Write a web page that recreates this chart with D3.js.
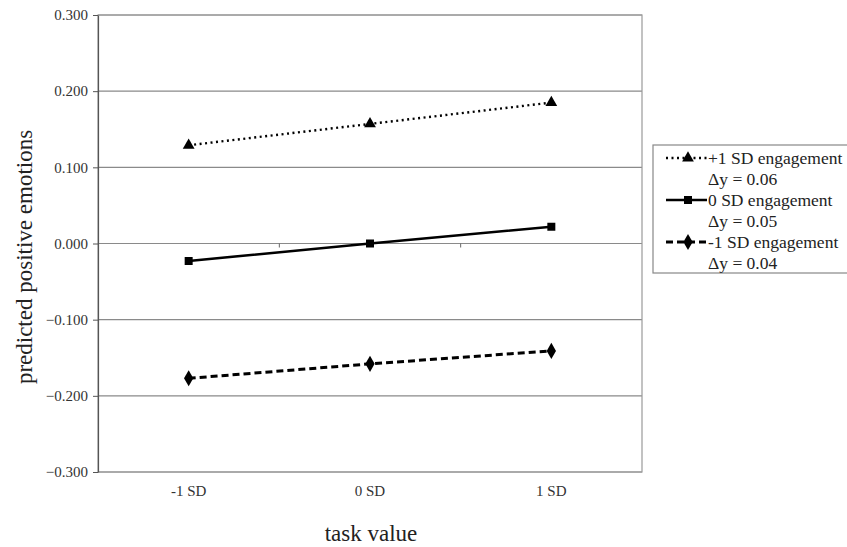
<!DOCTYPE html>
<html>
<head>
<meta charset="utf-8">
<script src="https://cdn.jsdelivr.net/npm/d3@7"></script>
<style>
  body { margin: 0; background: #fff; }
  text { font-family: "Liberation Serif", "Times New Roman", serif; }
</style>
</head>
<body>
<svg id="chart" width="847" height="547"></svg>
<script>
// data
const categories = ["-1 SD", "0 SD", "1 SD"];
const plusOneSD = [0.129, 0.157, 0.185];
const zeroSD = [-0.023, 0.000, 0.022];
const minusOneSD = [-0.177, -0.158, -0.141];
const seriesNames = ["+1 SD engagement", "0 SD engagement", "-1 SD engagement"];
const deltaLabels = ["\u0394y = 0.06", "\u0394y = 0.05", "\u0394y = 0.04"];
const yTicks = [-0.3, -0.2, -0.1, 0, 0.1, 0.2, 0.3];

const margin = { top: 15, left: 98, right: 205, bottom: 75 };
const width = 847, height = 547;
const innerW = width - margin.left - margin.right;
const innerH = height - margin.top - margin.bottom;

const svg = d3.select("svg#chart");
const g = svg.append("g").attr("transform", `translate(${margin.left},${margin.top})`);

const x = d3.scaleBand().domain(categories).range([0, innerW]);
const y = d3.scaleLinear().domain([-0.3, 0.3]).range([innerH, 0]);

// gridlines
g.selectAll("line.grid")
    .data(yTicks)
    .join("line")
    .attr("class", "grid")
    .attr("x1", 0).attr("x2", innerW)
    .attr("y1", d => y(d)).attr("y2", d => y(d))
    .attr("stroke", "#8a8a8a").attr("stroke-width", 1.2);

// plot area border
g.append("rect")
    .attr("width", innerW).attr("height", innerH)
    .attr("fill", "none").attr("stroke", "#9a9a9a").attr("stroke-width", 1.2);

// y axis
const yAxis = d3.axisLeft(y).tickValues(yTicks).tickFormat(d3.format(".3f")).tickSize(5).tickSizeOuter(0);
g.append("g").call(yAxis)
    .call(a => a.select(".domain").attr("stroke", "#555").attr("stroke-width", 1.2))
    .call(a => a.selectAll(".tick line").attr("stroke", "#555"))
    .call(a => a.selectAll(".tick text").attr("font-size", 15).attr("fill", "#333").attr("dx", -2));

// category axis crosses at zero
g.append("g")
    .selectAll("line")
    .data(categories.slice(1))
    .join("line")
    .attr("x1", d => x(d)).attr("x2", d => x(d))
    .attr("y1", y(0)).attr("y2", y(0) + 4)
    .attr("stroke", "#666");

g.append("g")
    .selectAll("text")
    .data(categories)
    .join("text")
    .attr("x", d => x(d) + x.bandwidth() / 2)
    .attr("y", innerH + 24)
    .attr("text-anchor", "middle")
    .attr("font-size", 15)
    .attr("fill", "#333")
    .text(d => d);

// axis titles
svg.append("text")
    .attr("transform", `translate(32,257) rotate(-90)`)
    .attr("text-anchor", "middle")
    .attr("font-size", 23)
    .attr("fill", "#222")
    .text("predicted positive emotions");

svg.append("text")
    .attr("x", 371)
    .attr("y", 541)
    .attr("text-anchor", "middle")
    .attr("font-size", 23)
    .attr("fill", "#222")
    .text("task value");

const styles = [
    { values: plusOneSD, dash: "2,3.5", width: 2.4, marker: d3.symbolTriangle, size: 60 },
    { values: zeroSD, dash: null, width: 2.6, marker: d3.symbolSquare, size: 64 },
    { values: minusOneSD, dash: "7,4", width: 3, marker: d3.symbolDiamond, size: 75 }
];

const line = d3.line()
    .x((d, i) => x(categories[i]) + x.bandwidth() / 2)
    .y(d => y(d));

styles.forEach(s => {
    g.append("path")
        .datum(s.values)
        .attr("d", line)
        .attr("fill", "none")
        .attr("stroke", "#000")
        .attr("stroke-width", s.width)
        .attr("stroke-dasharray", s.dash);
    g.selectAll(null)
        .data(s.values)
        .join("path")
        .attr("transform", (d, i) => `translate(${x(categories[i]) + x.bandwidth() / 2},${y(d)})`)
        .attr("d", d3.symbol().type(s.marker).size(s.size))
        .attr("fill", "#000");
});

// legend
const legend = svg.append("g").attr("transform", "translate(653,145)");
legend.append("rect")
    .attr("width", 210).attr("height", 128)
    .attr("fill", "#fff").attr("stroke", "#888").attr("stroke-width", 1.2);

styles.forEach((s, i) => {
    const row = legend.append("g").attr("transform", `translate(0,${13 + i * 42})`);
    row.append("line")
        .attr("x1", 13).attr("x2", 54)
        .attr("stroke", "#000")
        .attr("stroke-width", s.width)
        .attr("stroke-dasharray", s.dash);
    row.append("path")
        .attr("transform", "translate(35,0)")
        .attr("d", d3.symbol().type(s.marker).size(s.size))
        .attr("fill", "#000");
    row.append("text")
        .attr("x", 55).attr("y", 6)
        .attr("font-size", 17.5)
        .attr("fill", "#222")
        .text(seriesNames[i]);
    row.append("text")
        .attr("x", 55).attr("y", 27)
        .attr("font-size", 17.5)
        .attr("fill", "#222")
        .text(deltaLabels[i]);
});
</script>
</body>
</html>
